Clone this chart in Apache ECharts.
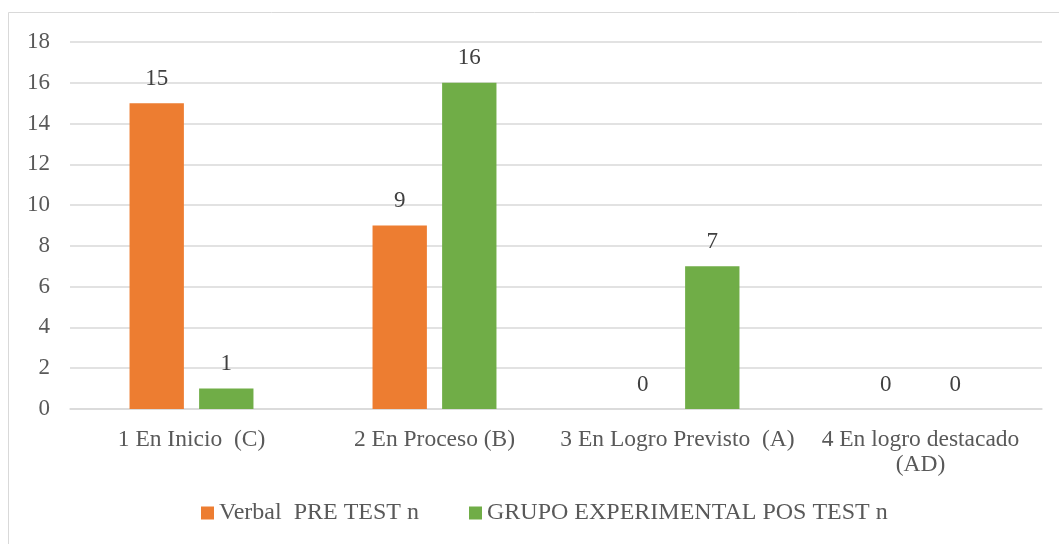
<!DOCTYPE html>
<html>
<head>
<meta charset="utf-8">
<script src="https://cdn.jsdelivr.net/npm/echarts@6/dist/echarts.min.js"></script>
<style>
html, body { margin: 0; padding: 0; background: #fff; }
#chart { width: 1059px; height: 544px; }
</style>
</head>
<body>
<div id="chart"></div>
<script>
var categories = ['1 En Inicio  (C)', '2 En Proceso (B)', '3 En Logro Previsto  (A)', '4 En logro destacado\n(AD)'];
var preTest = [15, 9, 0, 0];
var posTest = [1, 16, 7, 0];
var seriesNames = ['Verbal  PRE TEST n', 'GRUPO EXPERIMENTAL POS TEST n'];

var font = '"Liberation Serif", "Times New Roman", serif';
var myChart = echarts.init(document.getElementById('chart'));
myChart.setOption({
    backgroundColor: '#fff',
    textStyle: { fontFamily: font },
    graphic: [{
        type: 'rect',
        shape: { x: 8.5, y: 12.5, width: 1060, height: 540 },
        style: { fill: null, stroke: '#d9d9d9', lineWidth: 1 },
        silent: true
    }],
    legend: {
        data: seriesNames,
        top: 496,
        left: 196,
        itemWidth: 13,
        itemHeight: 13,
        itemGap: 50,
        icon: 'rect',
        textStyle: { fontFamily: font, fontSize: 24, color: '#595959' }
    },
    grid: {
        left: 70,
        right: 17,
        top: 42,
        bottom: 135
    },
    xAxis: {
        type: 'category',
        data: categories,
        axisLine: { show: true, lineStyle: { color: '#d9d9d9', width: 1.5 } },
        axisTick: { show: false },
        axisLabel: {
            fontFamily: font,
            fontSize: 23.5,
            color: '#595959',
            margin: 18,
            lineHeight: 25,
            interval: 0
        }
    },
    yAxis: {
        type: 'value',
        min: 0,
        max: 18,
        interval: 2,
        axisLine: { show: false },
        axisTick: { show: false },
        splitLine: { lineStyle: { color: '#d9d9d9', width: 1.5 } },
        axisLabel: {
            fontFamily: font,
            fontSize: 23,
            color: '#595959',
            margin: 20
        }
    },
    series: [{
        name: seriesNames[0],
        type: 'bar',
        data: preTest,
        barGap: '28%',
        barCategoryGap: '49%',
        itemStyle: { color: '#ed7d31' },
        label: {
            show: true,
            position: 'top',
            distance: 13,
            fontFamily: font,
            fontSize: 23,
            color: '#404040'
        }
    }, {
        name: seriesNames[1],
        type: 'bar',
        data: posTest,
        itemStyle: { color: '#70ad47' },
        label: {
            show: true,
            position: 'top',
            distance: 13,
            fontFamily: font,
            fontSize: 23,
            color: '#404040'
        }
    }]
});
</script>
</body>
</html>
